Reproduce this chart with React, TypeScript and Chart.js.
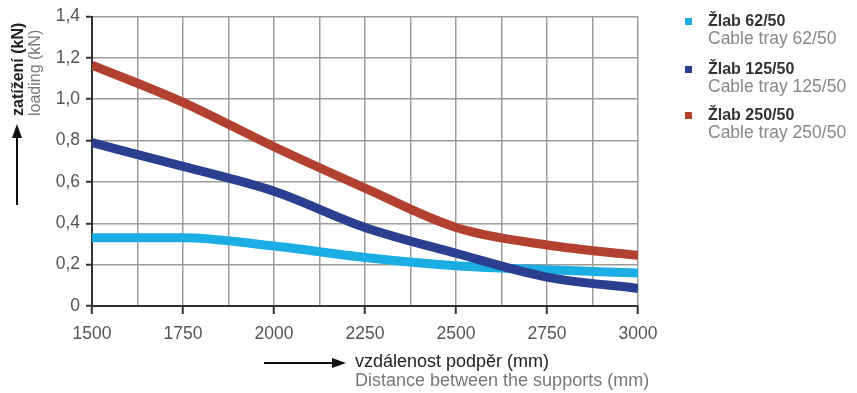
import React, { useEffect, useRef } from "react";
import { Chart, registerables } from "chart.js";

Chart.register(...registerables);

const xValues = [1500, 1750, 2000, 2250, 2500, 2750, 3000];
const xTickLabels = ["1500", "1750", "2000", "2250", "2500", "2750", "3000"];
const yTickValues = [0, 0.2, 0.4, 0.6, 0.8, 1.0, 1.2, 1.4];
const yTickLabels = ["0", "0,2", "0,4", "0,6", "0,8", "1,0", "1,2", "1,4"];

const tray62 = [0.33, 0.33, 0.29, 0.235, 0.195, 0.175, 0.16];
const tray125 = [0.79, 0.675, 0.555, 0.38, 0.255, 0.14, 0.085];
const tray250 = [1.165, 0.985, 0.77, 0.57, 0.38, 0.295, 0.245];

const seriesNames = ["Žlab 62/50", "Žlab 125/50", "Žlab 250/50"];
const seriesNamesEn = ["Cable tray 62/50", "Cable tray 125/50", "Cable tray 250/50"];
const seriesColors = ["#1aaee4", "#2b3f90", "#b3412f"];

const FONT = "'Liberation Sans', Arial, sans-serif";

const decorPlugin = {
  id: "decor",
  afterDraw(chart: any) {
    const ctx = chart.ctx as CanvasRenderingContext2D;
    ctx.save();
    // Y axis title
    ctx.save();
    ctx.translate(19, 116);
    ctx.rotate(-Math.PI / 2);
    ctx.textAlign = "left";
    ctx.textBaseline = "middle";
    ctx.fillStyle = "#222";
    ctx.font = `bold 16px ${FONT}`;
    ctx.fillText("zatížení (kN)", 0, 0);
    ctx.fillStyle = "#777";
    ctx.font = `16px ${FONT}`;
    ctx.fillText("loading (kN)", 0, 17);
    ctx.restore();

    // Up arrow
    ctx.strokeStyle = "#111";
    ctx.fillStyle = "#111";
    ctx.lineWidth = 2;
    ctx.beginPath();
    ctx.moveTo(17, 205);
    ctx.lineTo(17, 134);
    ctx.stroke();
    ctx.beginPath();
    ctx.moveTo(17, 124);
    ctx.lineTo(12, 138);
    ctx.lineTo(22, 138);
    ctx.closePath();
    ctx.fill();

    // Right arrow
    ctx.beginPath();
    ctx.moveTo(264, 363);
    ctx.lineTo(336, 363);
    ctx.stroke();
    ctx.beginPath();
    ctx.moveTo(346, 363);
    ctx.lineTo(332, 358);
    ctx.lineTo(332, 368);
    ctx.closePath();
    ctx.fill();

    // X title
    ctx.textAlign = "left";
    ctx.textBaseline = "middle";
    ctx.fillStyle = "#222";
    ctx.font = `18px ${FONT}`;
    ctx.fillText("vzdálenost podpěr (mm)", 355, 362);
    ctx.fillStyle = "#777";
    ctx.fillText("Distance between the supports (mm)", 355, 381);

    // Legend
    const rows = [22, 70, 116];
    for (let i = 0; i < seriesNames.length; i++) {
      const y = rows[i];
      ctx.fillStyle = seriesColors[i];
      ctx.fillRect(685, y - 4, 7, 7);
      ctx.fillStyle = "#333";
      ctx.font = `bold 16px ${FONT}`;
      ctx.fillText(seriesNames[i], 708, y);
      ctx.fillStyle = "#888";
      ctx.font = `17.5px ${FONT}`;
      ctx.fillText(seriesNamesEn[i], 708, y + 17);
    }
    ctx.restore();
  },
};

const whiteBg = {
  id: "whiteBg",
  beforeDraw(chart: any) {
    const ctx = chart.ctx;
    ctx.save();
    ctx.fillStyle = "#fff";
    ctx.fillRect(0, 0, chart.width, chart.height);
    ctx.restore();
  },
};

export default function App() {
  const ref = useRef<HTMLCanvasElement | null>(null);

  useEffect(() => {
    document.body.style.margin = "0";
    if (!ref.current) return;
    const mk = (data: number[], i: number) => ({
      label: seriesNames[i],
      data: xValues.map((x, k) => ({ x, y: data[k] })),
      borderColor: seriesColors[i],
      backgroundColor: seriesColors[i],
      borderWidth: 9,
      pointRadius: 0,
      tension: 0.35,
      cubicInterpolationMode: "monotone" as const,
      borderCapStyle: "butt" as const,
      fill: false,
    });
    const chart = new Chart(ref.current, {
      type: "line",
      data: {
        datasets: [mk(tray62, 0), mk(tray125, 1), mk(tray250, 2)].reverse(),
      },
      options: {
        animation: false,
        responsive: true,
        maintainAspectRatio: false,
        layout: { padding: { top: 16, right: 219, left: 0, bottom: 0 } },
        plugins: { legend: { display: false }, tooltip: { enabled: false } },
        scales: {
          x: {
            type: "linear",
            min: 1500,
            max: 3000,
            afterFit: (s: any) => {
              s.height = 87;
            },
            afterBuildTicks: (s: any) => {
              const t = [];
              for (let v = 1500; v <= 3000; v += 125) t.push({ value: v });
              s.ticks = t;
            },
            ticks: {
              autoSkip: false,
              maxRotation: 0,
              padding: 10,
              color: "#555",
              font: { family: FONT, size: 17.5 },
              callback: (v: any) => {
                const i = xValues.indexOf(Number(v));
                return i >= 0 ? xTickLabels[i] : "";
              },
            },
            grid: {
              color: "#9e9b9b",
              lineWidth: 1.5,
              tickLength: 8,
              tickColor: (c: any) =>
                c.tick && xValues.includes(c.tick.value) ? "#333" : "rgba(0,0,0,0)",
              tickWidth: 2,
            },
            border: { color: "#333", width: 2 },
          },
          y: {
            min: 0,
            max: 1.4,
            afterFit: (s: any) => {
              s.width = 92;
            },
            afterBuildTicks: (s: any) => {
              s.ticks = yTickValues.map((v) => ({ value: v }));
            },
            ticks: {
              padding: 6,
              color: "#555",
              font: { family: FONT, size: 17.5 },
              callback: (v: any) => {
                const i = yTickValues.findIndex((t) => Math.abs(t - Number(v)) < 1e-6);
                return i >= 0 ? yTickLabels[i] : "";
              },
            },
            grid: {
              color: "#9e9b9b",
              lineWidth: 1.5,
              tickLength: 6,
              tickColor: "#333",
              tickWidth: 2,
            },
            border: { color: "#333", width: 2 },
          },
        },
      },
      plugins: [whiteBg, decorPlugin],
    });
    return () => chart.destroy();
  }, []);

  return (
    <div style={{ position: "relative", width: 857, height: 393 }}>
      <canvas ref={ref} />
    </div>
  );
}
